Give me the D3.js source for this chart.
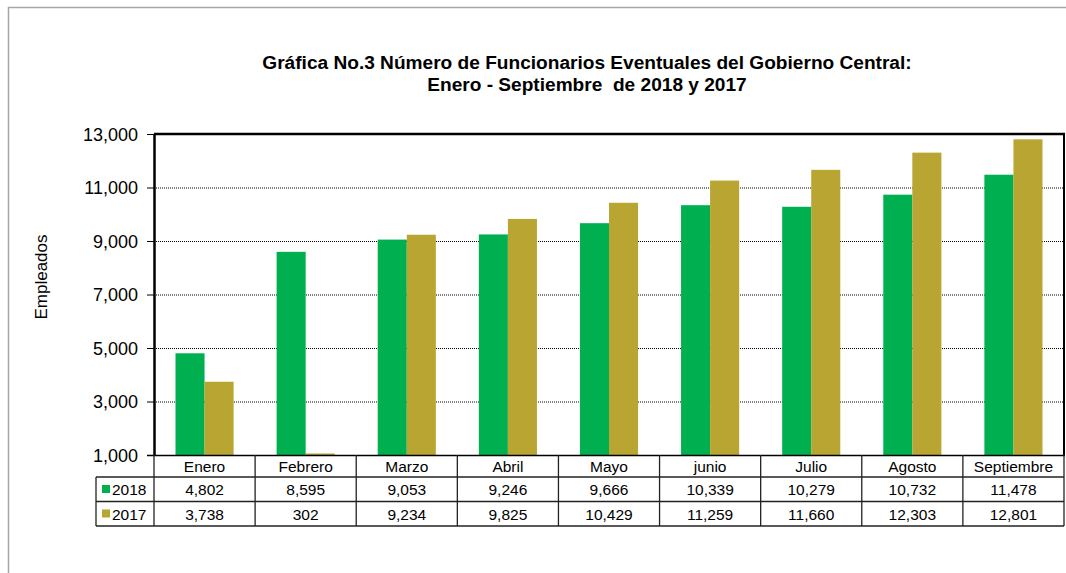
<!DOCTYPE html>
<html><head><meta charset="utf-8">
<script src="https://cdn.jsdelivr.net/npm/d3@7"></script>
<style>body{margin:0;background:#fff}svg{display:block}</style>
</head><body><svg id="c" width="1066" height="573"></svg>
<script>
const months = ["Enero","Febrero","Marzo","Abril","Mayo","junio","Julio","Agosto","Septiembre"];
const seriesNames = ["2018","2017"];
const values2018 = [4802,8595,9053,9246,9666,10339,10279,10732,11478];
const values2017 = [3738,302,9234,9825,10429,11259,11660,12303,12801];
const yTicks = [1000,3000,5000,7000,9000,11000,13000];
const colors = {"2018":"#00b050","2017":"#b8a532"};
const titleLines = ["Gráfica No.3 Número de Funcionarios Eventuales del Gobierno Central:","Enero - Septiembre  de 2018 y 2017"];

const svg = d3.select("#c");
const font = "Liberation Sans, Arial, sans-serif";
const L = 154, R = 1064, T = 134, B = 455;

// outer frame
svg.append("path").attr("d","M8.5,573 V7.5 H1066").attr("fill","none").attr("stroke","#a6a6a6").attr("stroke-width",1.5);

// title
svg.append("g").selectAll("text").data(titleLines).join("text")
  .attr("x",587).attr("y",(d,i)=>69+i*22).attr("text-anchor","middle")
  .attr("font-family",font).attr("font-weight","bold").attr("font-size",19.1)
  .style("white-space","pre").attr("xml:space","preserve")
  .attr("fill","#000").text(d=>d);

const x = d3.scaleBand().domain(months).range([L,R]).padding(0);
const xs = d3.scaleBand().domain(seriesNames).range([0,x.bandwidth()]).paddingInner(0).paddingOuter(0.74);
const y = d3.scaleLinear().domain([1000,13000]).range([B,T]);

// grid
svg.append("g").selectAll("line").data(yTicks.filter(t=>t>1000 && t<13000)).join("line")
  .attr("x1",L).attr("x2",R).attr("y1",d=>y(d)+0.5).attr("y2",d=>y(d)+0.5)
  .attr("stroke","#000").attr("stroke-width",1).attr("stroke-dasharray","1,1");

// bars
const data = months.map((m,i)=>({m, v:{"2018":values2018[i],"2017":values2017[i]}}));
const g = svg.append("g");
data.forEach(d=>{
  seriesNames.forEach(s=>{
    const v = d.v[s];
    const top = v>1000 ? y(v) : B-1.5;
    g.append("rect").attr("x",x(d.m)+xs(s)).attr("width",xs.bandwidth())
      .attr("y",top).attr("height",B-top).attr("fill",colors[s]);
  });
});

// y axis
const ya = svg.append("g").attr("transform",`translate(${L},0)`)
  .call(d3.axisLeft(y).tickValues(yTicks).tickFormat(d3.format(",")).tickSize(7).tickSizeOuter(0));
ya.select(".domain").attr("stroke","#000").attr("stroke-width",2.5);
ya.selectAll(".tick line").attr("stroke","#000");
ya.selectAll(".tick text").attr("font-family",font).attr("font-size",18).attr("fill","#000").attr("x",-16).attr("dy","0.36em");

// plot frame top/right
svg.append("line").attr("x1",L).attr("x2",R+1).attr("y1",T).attr("y2",T).attr("stroke","#000").attr("stroke-width",2.5);
svg.append("line").attr("x1",R).attr("x2",R).attr("y1",T).attr("y2",B).attr("stroke","#000").attr("stroke-width",2);
svg.append("line").attr("x1",L-7).attr("x2",R+1).attr("y1",B+0.5).attr("y2",B+0.5).attr("stroke","#000").attr("stroke-width",1.5);

// y label
svg.append("text").attr("transform","translate(47,277) rotate(-90)").attr("text-anchor","middle")
  .attr("font-family",font).attr("font-size",17).attr("fill","#000").text("Empleados");

// data table
const rowY = [455,477,501.5,526];
const LL = 96;
const tg = svg.append("g");
const tblStroke = "#222";
tg.append("line").attr("x1",LL).attr("x2",R).attr("y1",rowY[1]).attr("y2",rowY[1]);
tg.append("line").attr("x1",LL).attr("x2",R).attr("y1",rowY[2]).attr("y2",rowY[2]);
tg.append("line").attr("x1",LL).attr("x2",R).attr("y1",rowY[3]).attr("y2",rowY[3]);
tg.append("line").attr("x1",LL).attr("x2",LL).attr("y1",rowY[1]).attr("y2",rowY[3]);
const vx = months.map(m=>x(m)).concat([R]);
tg.selectAll("line.v").data(vx).join("line").attr("class","v")
  .attr("x1",d=>d).attr("x2",d=>d).attr("y1",rowY[0]).attr("y2",rowY[3]);
tg.selectAll("line").attr("stroke",tblStroke).attr("stroke-width",1.3);

const tfs = 15.5;
tg.selectAll("text.m").data(months).join("text").attr("class","m")
  .attr("x",d=>x(d)+x.bandwidth()/2).attr("y",rowY[0]+17).attr("text-anchor","middle")
  .attr("font-family",font).attr("font-size",tfs).attr("fill","#000").text(d=>d);
const rows = [values2018, values2017];
rows.forEach((vals,ri)=>{
  const yy = rowY[ri+1]+18;
  tg.selectAll("text.r"+ri).data(vals).join("text").attr("class","r"+ri)
    .attr("x",(d,i)=>x(months[i])+x.bandwidth()/2).attr("y",yy).attr("text-anchor","middle")
    .attr("font-family",font).attr("font-size",tfs).attr("fill","#000").text(d=>d3.format(",")(d));
  tg.append("rect").attr("x",102).attr("y",rowY[ri+1]+8).attr("width",8).attr("height",8).attr("fill",colors[seriesNames[ri]]);
  tg.append("text").attr("x",112).attr("y",yy).attr("font-family",font).attr("font-size",tfs).attr("fill","#000").text(seriesNames[ri]);
});
</script></body></html>
